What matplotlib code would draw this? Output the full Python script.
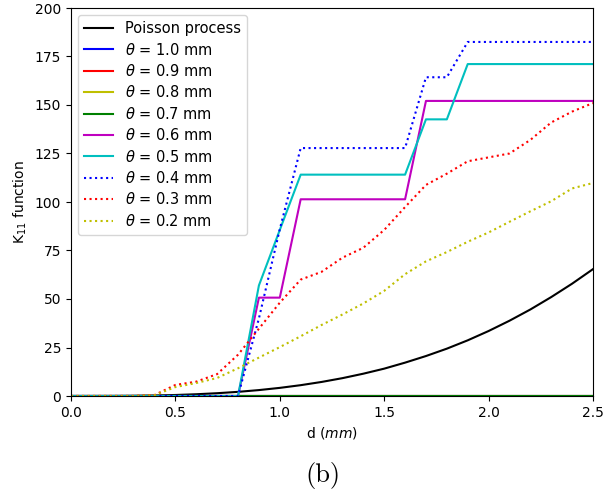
import numpy as np
import matplotlib
matplotlib.use("Agg")
import matplotlib.pyplot as plt

# distances (mm)
d = np.round(np.arange(0, 2.51, 0.1), 1)

# values
poisson = [0, 0.004, 0.03, 0.11, 0.27, 0.52, 0.9, 1.44, 2.14, 3.05, 4.19,
           5.58, 7.24, 9.2, 11.5, 14.1, 17.2, 20.6, 24.4, 28.7, 33.5,
           38.8, 44.6, 51.0, 57.9, 65.4]
zeros = [0] * len(d)
theta_06 = [0, 0, 0, 0, 0, 0, 0, 0, 0, 50.7, 50.7,
            101.4, 101.4, 101.4, 101.4, 101.4, 101.4, 152.1, 152.1, 152.1, 152.1,
            152.1, 152.1, 152.1, 152.1, 152.1]
theta_05 = [0, 0, 0, 0, 0, 0, 0, 0, 0, 57.0, 85.6,
            114.1, 114.1, 114.1, 114.1, 114.1, 114.1, 142.6, 142.6, 171.1, 171.1,
            171.1, 171.1, 171.1, 171.1, 171.1]
theta_04 = [0, 0, 0, 0, 0, 0, 0, 0, 0, 40.0, 86.0,
            127.8, 127.8, 127.8, 127.8, 127.8, 127.8, 164.3, 164.3, 182.5, 182.5,
            182.5, 182.5, 182.5, 182.5, 182.5]
theta_03 = [0, 0, 0, 0, 0.5, 5.7, 7.4, 11.3, 21.3, 34.7, 48.1,
            60.0, 64.0, 71.3, 76.4, 85.6, 97.4, 108.8, 114.6, 121.0, 123.0,
            125.0, 132.0, 141.0, 146.6, 151.0]
theta_02 = [0, 0, 0, 0, 0.4, 4.6, 6.7, 9.3, 14.3, 19.8, 25.2,
            30.8, 36.6, 42.0, 47.7, 54.2, 62.8, 69.4, 74.2, 79.5, 84.3,
            89.8, 95.2, 100.4, 107.0, 109.8]

fig = plt.figure(figsize=(6.15, 4.98), dpi=100)
ax = fig.add_axes([71 / 615, 1 - 396 / 498, 522 / 615, 388 / 498])

ax.plot(d, poisson, 'k', label='Poisson process')
ax.plot(d, zeros, 'b', label=r'$\theta$ = 1.0 mm')
ax.plot(d, zeros, 'r', label=r'$\theta$ = 0.9 mm')
ax.plot(d, zeros, 'y', label=r'$\theta$ = 0.8 mm')
ax.plot(d, zeros, 'g', label=r'$\theta$ = 0.7 mm')
ax.plot(d, theta_06, 'm', label=r'$\theta$ = 0.6 mm')
ax.plot(d, theta_05, 'c', label=r'$\theta$ = 0.5 mm')
ax.plot(d, theta_04, 'b:', label=r'$\theta$ = 0.4 mm')
ax.plot(d, theta_03, 'r:', label=r'$\theta$ = 0.3 mm')
ax.plot(d, theta_02, 'y:', label=r'$\theta$ = 0.2 mm')

ax.set_xlim(0, 2.5)
ax.set_ylim(0, 200)
ax.set_xlabel(r'd ($mm$)')
ax.set_ylabel(r'K$_{11}$ function')
ax.legend(loc='upper left', fontsize=10.5, labelspacing=0.37)

fig.text(0.525, 0.033, '(b)', family='cmr10', fontsize=19, ha='center')

fig.savefig('out.png', dpi=100)
